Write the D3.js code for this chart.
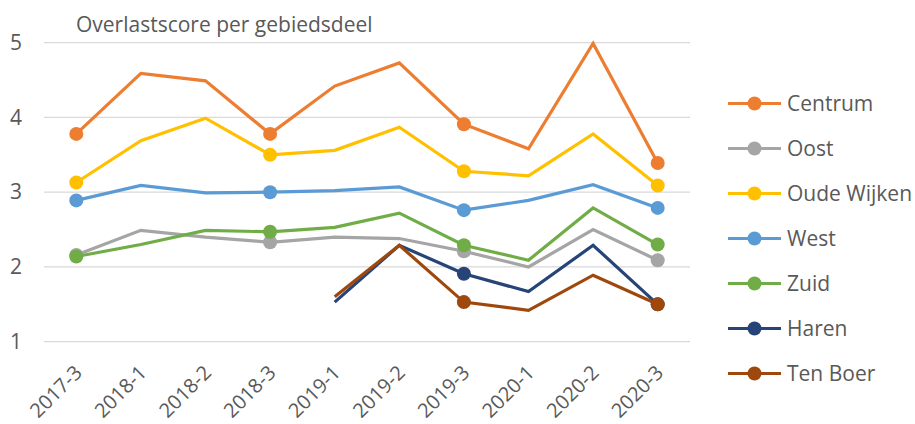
<!DOCTYPE html>
<html><head><meta charset="utf-8">
<script src="https://cdn.jsdelivr.net/npm/d3@7"></script>
<style>body{margin:0;background:#fff}svg{display:block}</style>
</head><body><svg id="c" width="915" height="424"></svg>
<script>
const categories = ["2017-3","2018-1","2018-2","2018-3","2019-1","2019-2","2019-3","2020-1","2020-2","2020-3"];
const centrum    = [3.78,4.59,4.49,3.78,4.42,4.73,3.91,3.58,4.99,3.39];
const oost       = [2.16,2.49,2.40,2.33,2.40,2.38,2.21,2.00,2.50,2.09];
const oudeWijken = [3.13,3.69,3.99,3.50,3.56,3.87,3.28,3.22,3.78,3.09];
const west       = [2.89,3.09,2.99,3.00,3.02,3.07,2.76,2.89,3.10,2.79];
const zuid       = [2.14,2.30,2.49,2.47,2.53,2.72,2.29,2.09,2.79,2.30];
const haren      = [null,null,null,null,1.53,2.29,1.91,1.67,2.29,1.50];
const tenBoer    = [null,null,null,null,1.60,2.29,1.53,1.42,1.89,1.50];
const seriesNames = ["Centrum","Oost","Oude Wijken","West","Zuid","Haren","Ten Boer"];
const seriesColors = ["#ED7D31","#A5A5A5","#FFC000","#5B9BD5","#70AD47","#264478","#9E480E"];
const yTicks = [1,2,3,4,5];
const title = "Overlastscore per gebiedsdeel";

const seriesValues = [centrum,oost,oudeWijken,west,zuid,haren,tenBoer];
const series = seriesNames.map((n,i)=>({name:n,color:seriesColors[i],values:seriesValues[i]}));

const svg = d3.select("#c");
const font = "'Open Sans', sans-serif";
const x = d3.scaleBand().domain(categories).range([44,690]);
const y = d3.scaleLinear().domain([1,5]).range([341.7,42.7]);
const cx = c => x(c) + x.bandwidth()/2;

// gridlines
svg.append("g").selectAll("line").data(yTicks).join("line")
  .attr("x1",44).attr("x2",690).attr("y1",d=>y(d)).attr("y2",d=>y(d))
  .attr("stroke","#d9d9d9").attr("stroke-width",1.3);

// y labels
const yAxis = d3.axisLeft(y).tickValues(yTicks).tickFormat(d3.format("d")).tickSize(0).tickPadding(0);
const yg = svg.append("g").attr("transform","translate(22,0)").call(yAxis);
yg.select(".domain").remove();
yg.selectAll("text").attr("fill","#595959").style("font-family",font).style("font-size","21px");

// x labels
const xAxis = d3.axisBottom(x).tickSize(0).tickPadding(0);
const xg = svg.append("g").attr("transform","translate(0,348)").call(xAxis);
xg.select(".domain").remove();
xg.selectAll("text").attr("fill","#595959").style("font-family",font).style("font-size","20px")
  .attr("text-anchor","end").attr("y",0).attr("dy",0)
  .attr("transform","translate(7,26) rotate(-45)");

// title
svg.append("text").attr("x",76).attr("y",31.5).text(title)
  .attr("fill","#595959").style("font-family",font).style("font-size","21px");

// lines
const line = d3.line().defined(d=>d[1]!=null).x(d=>cx(d[0])).y(d=>y(d[1]));
series.forEach(s=>{
  const pts = categories.map((c,i)=>[c,s.values[i]]);
  const g = svg.append("g");
  g.append("path").datum(pts).attr("d",line).attr("fill","none")
    .attr("stroke",s.color).attr("stroke-width",3.2).attr("stroke-linejoin","miter");
  g.selectAll("circle").data(pts.filter((d,i)=>i%3===0 && d[1]!=null)).join("circle")
    .attr("cx",d=>cx(d[0])).attr("cy",d=>y(d[1])).attr("r",7).attr("fill",s.color);
});

// legend
const lg = svg.append("g");
series.forEach((s,i)=>{
  const yy = 103.5 + i*45;
  lg.append("line").attr("x1",728).attr("x2",781).attr("y1",yy).attr("y2",yy)
    .attr("stroke",s.color).attr("stroke-width",3.2);
  lg.append("circle").attr("cx",754.5).attr("cy",yy).attr("r",7).attr("fill",s.color);
  lg.append("text").attr("x",787).attr("y",yy).attr("dy","0.36em").text(s.name)
    .attr("fill","#595959").style("font-family",font).style("font-size","21px");
});
</script></body></html>
